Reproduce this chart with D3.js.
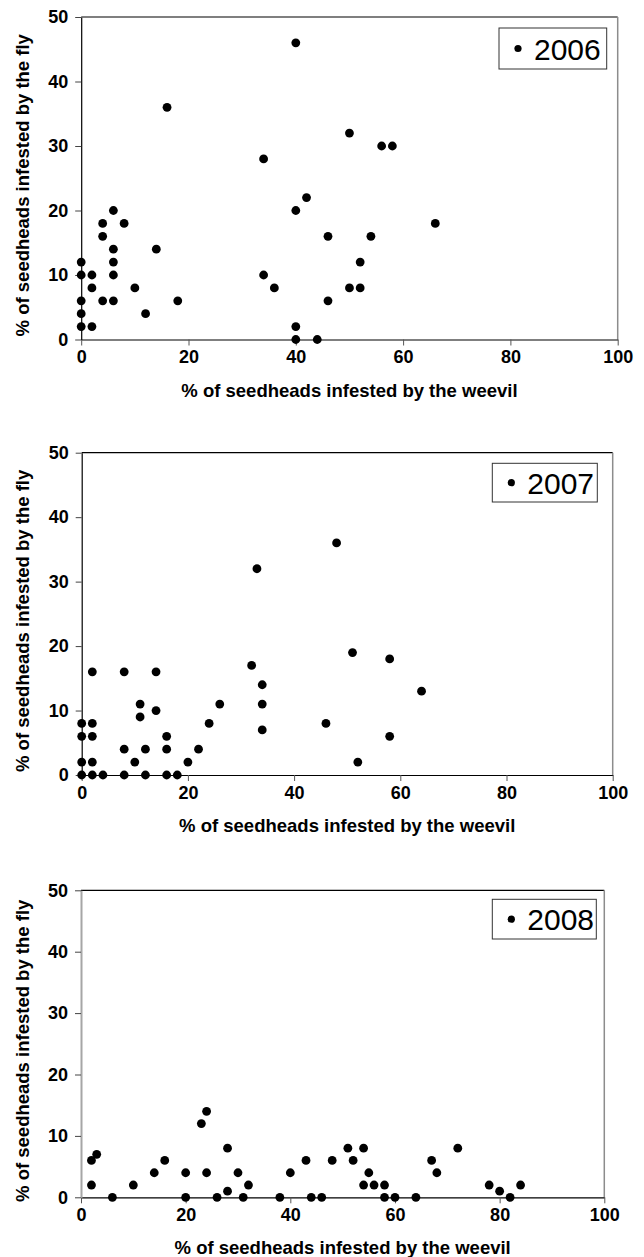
<!DOCTYPE html>
<html>
<head>
<meta charset="utf-8">
<script src="https://cdn.jsdelivr.net/npm/d3@7"></script>
<style>
  html, body { margin: 0; padding: 0; background: #fff; }
  svg { display: block; }
  text { font-family: "Liberation Sans", Arial, sans-serif; }
</style>
</head>
<body>
<svg id="chart" width="644" height="1257"></svg>
<script>
// ---- data ----
const years = ["2006", "2007", "2008"];
const xTicks = [0, 20, 40, 60, 80, 100];
const yTicks = [0, 10, 20, 30, 40, 50];
const xTitle = "% of seedheads infested by the weevil";
const yTitle = "% of seedheads infested by the fly";

const weevil2006 = [0,0,0,0,0,2,2,2,4,4,4,6,6,6,6,6,8,10,12,14,16,18,34,34,36,40,40,42,40,40,44,50,56,58,66,46,54,52,50,52,46];
const fly2006    = [12,10,6,4,2,10,8,2,18,16,6,20,14,12,10,6,18,8,4,14,36,6,28,10,8,46,20,22,2,0,0,32,30,30,18,16,16,12,8,8,6];

const weevil2007 = [0,0,0,0,2,2,2,2,2,4,8,8,8,10,11,11,12,12,14,14,16,16,16,18,20,22,24,26,32,33,34,34,34,48,51,58,64,46,58,52];
const fly2007    = [0,2,6,8,0,2,6,8,16,0,0,4,16,2,9,11,0,4,10,16,0,4,6,0,2,4,8,11,17,32,14,11,7,36,19,18,13,8,6,2];

const weevil2008 = [2,3,2,6,10,14,16,20,20,23,24,24,26,28,28,30,31,32,38,40,43,44,46,48,51,52,54,55,54,56,58,58,60,64,67,68,72,78,80,82,84];
const fly2008    = [6,7,2,0,2,4,6,4,0,12,14,4,0,8,1,4,0,2,0,4,6,0,0,6,8,6,8,4,2,2,2,0,0,0,6,4,8,2,1,0,2];

const seriesX = [weevil2006, weevil2007, weevil2008];
const seriesY = [fly2006, fly2007, fly2008];

// ---- layout ----
const panels = [
  { left: 81.2, right: 617.7, top: 17,    bottom: 339.5,  leg: { x0: 499,   x1: 606.7, y0: 28,    y1: 69 },    leftAxis: "#000" },
  { left: 81.7, right: 612.7, top: 452.7, bottom: 775,    leg: { x0: 492.3, x1: 597.3, y0: 463.3, y1: 502 },   leftAxis: "#000" },
  { left: 81,   right: 604.3, top: 890.3, bottom: 1197.3, leg: { x0: 492.3, x1: 596.3, y0: 899.3, y1: 939 },   leftAxis: "#a6a6a6" }
];

const svg = d3.select("#chart");

panels.forEach((p, i) => {
  const x = d3.scaleLinear().domain([0, 100]).range([p.left, p.right]);
  const y = d3.scaleLinear().domain([0, 50]).range([p.bottom, p.top]);
  const g = svg.append("g");

  // top border
  g.append("line").attr("x1", p.left).attr("x2", p.right).attr("y1", p.top).attr("y2", p.top)
    .attr("stroke", "#000").attr("stroke-width", 1.2);
  // right border
  g.append("line").attr("x1", p.right).attr("x2", p.right).attr("y1", p.top).attr("y2", p.bottom)
    .attr("stroke", "#8c8c8c").attr("stroke-width", 1.5);

  // x axis
  const xa = g.append("g").attr("transform", `translate(0,${p.bottom})`)
    .call(d3.axisBottom(x).tickValues(xTicks).tickSize(6).tickSizeOuter(0).tickPadding(5));
  xa.select(".domain").attr("stroke", "#000").attr("stroke-width", 1.2);
  xa.selectAll(".tick line").attr("stroke", "#555");
  xa.selectAll(".tick text").attr("font-size", 18).attr("font-weight", "bold").attr("fill", "#000")
    .attr("font-family", "'Liberation Sans', Arial, sans-serif");

  // y axis
  const ya = g.append("g").attr("transform", `translate(${p.left},0)`)
    .call(d3.axisLeft(y).tickValues(yTicks).tickSize(6).tickSizeOuter(0).tickPadding(7));
  ya.select(".domain").attr("stroke", p.leftAxis).attr("stroke-width", i === 2 ? 2 : 1.2);
  ya.selectAll(".tick line").attr("stroke", "#444");
  ya.selectAll(".tick text").attr("font-size", 18).attr("font-weight", "bold").attr("fill", "#000")
    .attr("font-family", "'Liberation Sans', Arial, sans-serif");

  // axis titles
  g.append("text")
    .attr("x", (p.left + p.right) / 2).attr("y", p.bottom + 57)
    .attr("text-anchor", "middle").attr("font-size", 18.5).attr("font-weight", "bold")
    .text(xTitle);
  const cy = (p.top + p.bottom) / 2 + 7;
  g.append("text")
    .attr("transform", `translate(29,${cy}) rotate(-90)`)
    .attr("text-anchor", "middle").attr("font-size", 18.5).attr("font-weight", "bold")
    .text(yTitle);

  // points
  const xs = seriesX[i], ys = seriesY[i];
  g.append("g").selectAll("circle").data(xs.map((v, k) => [v, ys[k]])).join("circle")
    .attr("cx", d => x(d[0])).attr("cy", d => y(d[1])).attr("r", 4.4).attr("fill", "#000");

  // legend
  const L = p.leg;
  g.append("rect").attr("x", L.x0).attr("y", L.y0).attr("width", L.x1 - L.x0).attr("height", L.y1 - L.y0)
    .attr("fill", "#fff").attr("stroke", "#333").attr("stroke-width", 1);
  const lcy = (L.y0 + L.y1) / 2;
  g.append("circle").attr("cx", L.x0 + 19).attr("cy", lcy).attr("r", 3.6).attr("fill", "#000");
  g.append("text").attr("x", L.x0 + 35).attr("y", lcy + 11).attr("font-size", 30).attr("fill", "#000")
    .text(years[i]);
});
</script>
</body>
</html>
